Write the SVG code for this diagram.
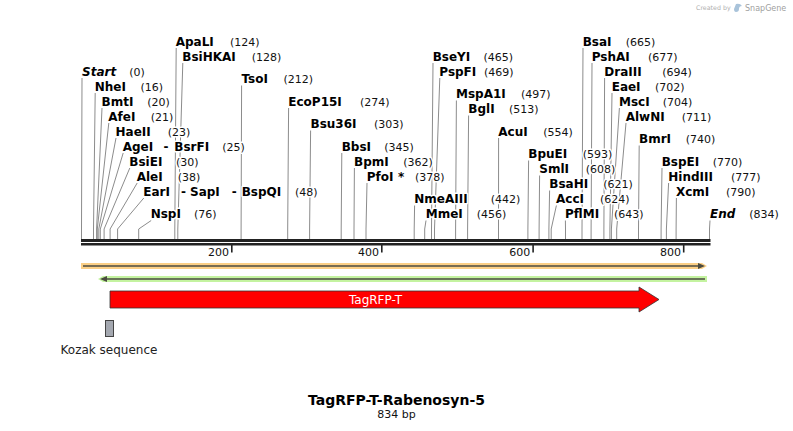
<svg xmlns="http://www.w3.org/2000/svg" width="793" height="431" viewBox="0 0 793 431">
<style>
.n{font-family:"DejaVu Sans",Verdana,sans-serif;font-weight:bold;font-size:12px;fill:#000;stroke:#fff;stroke-width:3;paint-order:stroke;stroke-linejoin:round}
.p{font-family:"DejaVu Sans",Verdana,sans-serif;font-size:11px;fill:#111;stroke:#fff;stroke-width:3;paint-order:stroke;stroke-linejoin:round}
.it{font-style:italic}
.cn{fill:none;stroke:#8c8c8c;stroke-width:1}
.rl{font-family:"DejaVu Sans",Verdana,sans-serif;font-size:11px;fill:#111;text-anchor:end}
.lab{font-family:"DejaVu Sans",Verdana,sans-serif;font-size:12px;fill:#222}
.inner{stroke:#4b4b40;stroke-width:1.6;fill:none}
</style>
<rect width="793" height="431" fill="#fff"/>
<g id="watermark">
<text x="696" y="10" style="font-family:'DejaVu Sans',sans-serif;font-size:6.3px;fill:#b0b0b0">Created by</text>
<path d="M736,4 q4,-1 6,2 q-3,0 -3,3 q0,3 -3,3 q-2,0 -2,-3 z" fill="#a9c3da"/>
<text x="745" y="11" style="font-family:'DejaVu Sans',sans-serif;font-size:8px;fill:#a0a0a0">SnapGene</text>
</g>
<g id="connectors">
<polyline class="cn" points="82,78 81.5,229 81.5,239"/>
<polyline class="cn" points="95.2,93 93.5,229 93.5,239"/>
<polyline class="cn" points="102,108 96.6,229 96.6,239"/>
<polyline class="cn" points="108.8,123 97.3,229 97.3,239"/>
<polyline class="cn" points="116,138 98.8,229 98.8,239"/>
<polyline class="cn" points="123.2,153 100.3,229 100.3,239"/>
<polyline class="cn" points="129.8,168 104.1,229 104.1,239"/>
<polyline class="cn" points="137.2,183 110.1,229 110.1,239"/>
<polyline class="cn" points="143.8,198 117.6,229 117.6,239"/>
<polyline class="cn" points="151.2,220.5 138.7,229 138.7,239"/>
<polyline class="cn" points="176.2,48 174.8,229 174.8,239"/>
<polyline class="cn" points="182.8,63 177.8,229 177.8,239"/>
<polyline class="cn" points="241.6,85.5 241.1,229 241.1,239"/>
<polyline class="cn" points="288.6,108 287.7,229 287.7,239"/>
<polyline class="cn" points="310.6,130.5 309.6,229 309.6,239"/>
<polyline class="cn" points="341.8,153 341.2,229 341.2,239"/>
<polyline class="cn" points="354.4,168 354,229 354,239"/>
<polyline class="cn" points="367,183 366,229 366,239"/>
<polyline class="cn" points="414.6,205.5 414.2,229 414.2,239"/>
<polyline class="cn" points="426,220.5 424.7,229 424.7,239"/>
<polyline class="cn" points="433,63 431.5,229 431.5,239"/>
<polyline class="cn" points="439.8,78 434.5,229 434.5,239"/>
<polyline class="cn" points="456.4,100.5 455.6,229 455.6,239"/>
<polyline class="cn" points="468.6,115.5 467.6,229 467.6,239"/>
<polyline class="cn" points="498.6,138 498.5,229 498.5,239"/>
<polyline class="cn" points="528.6,160.5 527.9,229 527.9,239"/>
<polyline class="cn" points="539.6,175.5 539.1,229 539.1,239"/>
<polyline class="cn" points="549.6,190.5 548.9,229 548.9,239"/>
<polyline class="cn" points="556.4,205.5 551.2,229 551.2,239"/>
<polyline class="cn" points="565.4,220.5 565.5,229 565.5,239"/>
<polyline class="cn" points="583,48 582,229 582,239"/>
<polyline class="cn" points="592,63 591.1,229 591.1,239"/>
<polyline class="cn" points="604.6,78 603.9,229 603.9,239"/>
<polyline class="cn" points="612,93 609.9,229 609.9,239"/>
<polyline class="cn" points="619.4,108 611.4,229 611.4,239"/>
<polyline class="cn" points="626,123 616.7,229 616.7,239"/>
<polyline class="cn" points="639.2,145.5 638.5,229 638.5,239"/>
<polyline class="cn" points="662,168 661.1,229 661.1,239"/>
<polyline class="cn" points="668.6,183 666.4,229 666.4,239"/>
<polyline class="cn" points="676.4,198 676.1,229 676.1,239"/>
<polyline class="cn" points="710,220.5 709.5,229 709.5,239"/>
</g>
<g id="ruler">
<rect x="81" y="239" width="629.5" height="3" fill="#222"/>
<rect x="81" y="243" width="629.5" height="2.5" fill="#222"/>
<rect x="231" y="245" width="1.6" height="7.5" fill="#222"/>
<rect x="381" y="245" width="1.6" height="7.5" fill="#222"/>
<rect x="532.3" y="245" width="1.6" height="7.5" fill="#222"/>
<rect x="682.9" y="245" width="1.6" height="7.5" fill="#222"/>
<text class="rl" x="229" y="256">200</text>
<text class="rl" x="379" y="256">400</text>
<text class="rl" x="530.3" y="256">600</text>
<text class="rl" x="680.9" y="256">800</text>
</g>
<g id="enz-Start"><text class="n it" x="82" y="75.5">Start</text><text class="p" x="129.3" y="75.5">(0)</text></g>
<g id="enz-NheI"><text class="n" x="94.7" y="90.5">NheI</text><text class="p" x="140.5" y="90.5">(16)</text></g>
<g id="enz-BmtI"><text class="n" x="101.5" y="105.5">BmtI</text><text class="p" x="147.3" y="105.5">(20)</text></g>
<g id="enz-AfeI"><text class="n" x="108.3" y="120.5">AfeI</text><text class="p" x="150.7" y="120.5">(21)</text></g>
<g id="enz-HaeII"><text class="n" x="115.5" y="135.5">HaeII</text><text class="p" x="167.7" y="135.5">(23)</text></g>
<g id="enz-AgeI-BsrFI"><text class="n" x="122.7" y="150.5">AgeI</text><text class="n" x="163.5" y="150.5">-</text><text class="n" x="174.3" y="150.5">BsrFI</text><text class="p" x="222.3" y="150.5">(25)</text></g>
<g id="enz-BsiEI"><text class="n" x="129.3" y="165.5">BsiEI</text><text class="p" x="176" y="165.5">(30)</text></g>
<g id="enz-AleI"><text class="n" x="136.7" y="180.5">AleI</text><text class="p" x="177.7" y="180.5">(38)</text></g>
<g id="enz-EarI-SapI-BspQI"><text class="n" x="143.3" y="195.5">EarI</text><text class="n" x="181" y="195.5">-</text><text class="n" x="190" y="195.5">SapI</text><text class="n" x="231.7" y="195.5">-</text><text class="n" x="241.7" y="195.5">BspQI</text><text class="p" x="295" y="195.5">(48)</text></g>
<g id="enz-NspI"><text class="n" x="150.7" y="218">NspI</text><text class="p" x="194" y="218">(76)</text></g>
<g id="enz-ApaLI"><text class="n" x="175.7" y="45.5">ApaLI</text><text class="p" x="230" y="45.5">(124)</text></g>
<g id="enz-BsiHKAI"><text class="n" x="182.3" y="60.5">BsiHKAI</text><text class="p" x="251.7" y="60.5">(128)</text></g>
<g id="enz-TsoI"><text class="n" x="241.5" y="83">TsoI</text><text class="p" x="283.5" y="83">(212)</text></g>
<g id="enz-EcoP15I"><text class="n" x="288.3" y="105.5">EcoP15I</text><text class="p" x="360" y="105.5">(274)</text></g>
<g id="enz-Bsu36I"><text class="n" x="310.5" y="128">Bsu36I</text><text class="p" x="374" y="128">(303)</text></g>
<g id="enz-BbsI"><text class="n" x="341.7" y="150.5">BbsI</text><text class="p" x="384.3" y="150.5">(345)</text></g>
<g id="enz-BpmI"><text class="n" x="354" y="165.5">BpmI</text><text class="p" x="403.3" y="165.5">(362)</text></g>
<g id="enz-PfoI"><text class="n" x="366.7" y="180.5">PfoI</text><text class="n" x="398" y="180.5">*</text><text class="p" x="415" y="180.5">(378)</text></g>
<g id="enz-NmeAIII"><text class="n" x="414.3" y="203">NmeAIII</text><text class="p" x="490.7" y="203">(442)</text></g>
<g id="enz-MmeI"><text class="n" x="425.7" y="218">MmeI</text><text class="p" x="476.7" y="218">(456)</text></g>
<g id="enz-BseYI"><text class="n" x="432.7" y="60.5">BseYI</text><text class="p" x="483.5" y="60.5">(465)</text></g>
<g id="enz-PspFI"><text class="n" x="439.3" y="75.5">PspFI</text><text class="p" x="484" y="75.5">(469)</text></g>
<g id="enz-MspA1I"><text class="n" x="456" y="98">MspA1I</text><text class="p" x="521" y="98">(497)</text></g>
<g id="enz-BglI"><text class="n" x="468.3" y="113">BglI</text><text class="p" x="509" y="113">(513)</text></g>
<g id="enz-AcuI"><text class="n" x="498.3" y="135.5">AcuI</text><text class="p" x="543.3" y="135.5">(554)</text></g>
<g id="enz-BpuEI"><text class="n" x="528.3" y="158">BpuEI</text><text class="p" x="582.7" y="158">(593)</text></g>
<g id="enz-SmlI"><text class="n" x="539.3" y="173">SmlI</text><text class="p" x="585.7" y="173">(608)</text></g>
<g id="enz-BsaHI"><text class="n" x="549.3" y="188">BsaHI</text><text class="p" x="603.3" y="188">(621)</text></g>
<g id="enz-AccI"><text class="n" x="556" y="203">AccI</text><text class="p" x="600" y="203">(624)</text></g>
<g id="enz-PflMI"><text class="n" x="565" y="218">PflMI</text><text class="p" x="614" y="218">(643)</text></g>
<g id="enz-BsaI"><text class="n" x="582.7" y="45.5">BsaI</text><text class="p" x="625.7" y="45.5">(665)</text></g>
<g id="enz-PshAI"><text class="n" x="591.7" y="60.5">PshAI</text><text class="p" x="648" y="60.5">(677)</text></g>
<g id="enz-DraIII"><text class="n" x="604.3" y="75.5">DraIII</text><text class="p" x="662.3" y="75.5">(694)</text></g>
<g id="enz-EaeI"><text class="n" x="611.7" y="90.5">EaeI</text><text class="p" x="655" y="90.5">(702)</text></g>
<g id="enz-MscI"><text class="n" x="619" y="105.5">MscI</text><text class="p" x="662.7" y="105.5">(704)</text></g>
<g id="enz-AlwNI"><text class="n" x="625.7" y="120.5">AlwNI</text><text class="p" x="681.7" y="120.5">(711)</text></g>
<g id="enz-BmrI"><text class="n" x="639" y="143">BmrI</text><text class="p" x="685.7" y="143">(740)</text></g>
<g id="enz-BspEI"><text class="n" x="661.7" y="165.5">BspEI</text><text class="p" x="712.7" y="165.5">(770)</text></g>
<g id="enz-HindIII"><text class="n" x="668.3" y="180.5">HindIII</text><text class="p" x="731" y="180.5">(777)</text></g>
<g id="enz-XcmI"><text class="n" x="676" y="195.5">XcmI</text><text class="p" x="726" y="195.5">(790)</text></g>
<g id="enz-End"><text class="n it" x="710" y="218">End</text><text class="p" x="749.3" y="218">(834)</text></g>
<g id="feature-orange">
<polygon points="81,263 702,263 707,266 702,269 81,269" fill="#fbcf86"/>
<line class="inner" x1="83" y1="266" x2="700" y2="266"/>
<polygon points="698,263 705,266 698,269" fill="#4b4b40"/>
</g>
<g id="feature-green">
<polygon points="98,279 103,276 707,276 707,282 103,282" fill="#c4f3a0"/>
<line class="inner" x1="104" y1="279" x2="705" y2="279"/>
<polygon points="107,276 100,279 107,282" fill="#4b4b40"/>
</g>
<g id="feature-TagRFP-T">
<polygon points="110,291 639,291 639,287 659,299.5 639,312 639,308 110,308" fill="#ff0000" stroke="#333" stroke-width="0.8"/>
<text x="375.5" y="303.5" text-anchor="middle" style="font-family:'DejaVu Sans',sans-serif;font-size:12px;fill:#fff">TagRFP-T</text>
</g>
<g id="feature-Kozak">
<rect x="105.5" y="320.5" width="8" height="16" fill="#a4a8b0" stroke="#444" stroke-width="1"/>
<text class="lab" x="109" y="354" text-anchor="middle">Kozak sequence</text>
</g>
<g id="title">
<text x="396.5" y="404.5" text-anchor="middle" style="font-family:'DejaVu Sans',sans-serif;font-weight:bold;font-size:14px;fill:#000">TagRFP-T-Rabenosyn-5</text>
<text x="396.5" y="418" text-anchor="middle" style="font-family:'DejaVu Sans',sans-serif;font-size:11px;fill:#111">834 bp</text>
</g>
</svg>
